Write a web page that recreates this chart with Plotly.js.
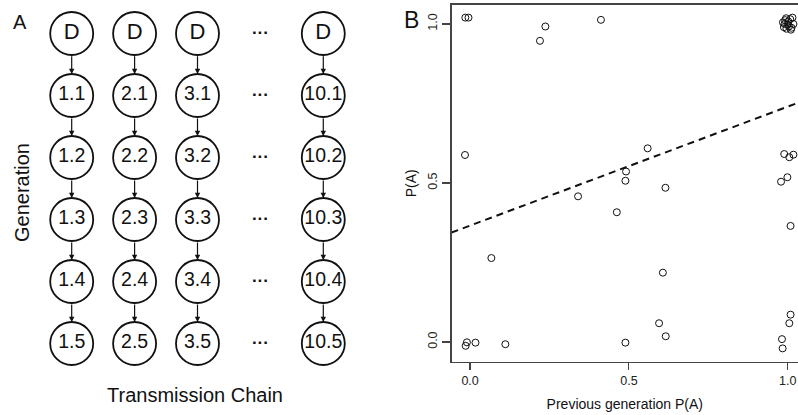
<!DOCTYPE html>
<html>
<head>
<meta charset="utf-8">
<script src="https://cdn.plot.ly/plotly-3.0.1.min.js"></script>
<style>
html,body{margin:0;padding:0;background:#fff;overflow:hidden;}
#chart{width:798px;height:415px;}
</style>
</head>
<body>
<div id="chart"></div>
<script>
// ---------- Panel A: transmission-chain diagram ----------
const chainLabels = ['1', '2', '3', '10'];
const chainSlots = [0, 1, 2, 4];          // slot 3 holds the "..." gap
const generationLabels = ['D', '1', '2', '3', '4', '5'];
const gapSlot = 3;
const gapText = '···';

// ---------- Panel B: scatter of P(A) vs previous generation P(A) ----------
const prevPA = [
  -0.015, -0.005, 0.220, 0.237, 0.412, -0.016, 0.559, 0.491, 0.489, 0.340, 0.615,
  0.989, 1.005, 1.018, 0.979, 0.999,
  0.462, 1.009, 0.067, 0.607, 0.595, 0.616, 0.489,
  -0.010, -0.014, 0.017, 0.111, 1.009, 1.005, 0.982, 0.984,
  0.985, 0.992, 1.000, 1.008, 1.015, 0.988, 0.996, 1.004, 1.012, 0.990, 1.002, 1.010, 0.995, 1.018
];
const currPA = [
  1.020, 1.020, 0.947, 0.992, 1.013, 0.588, 0.609, 0.536, 0.507, 0.458, 0.485,
  0.591, 0.581, 0.589, 0.504, 0.518,
  0.408, 0.365, 0.264, 0.218, 0.059, 0.018, -0.002,
  -0.001, -0.012, -0.002, -0.007, 0.086, 0.059, 0.009, -0.020,
  1.005, 1.012, 0.998, 1.015, 1.020, 0.990, 0.985, 0.992, 0.988, 1.000, 1.008, 0.982, 1.018, 1.000
];
const fitIntercept = 0.366;
const fitSlope = 0.374;
const tickVals = [0, 0.5, 1];
const tickText = ['0.0', '0.5', '1.0'];

// build diagram nodes
const nodeX = [], nodeY = [], nodeText = [], nodeSize = [];
chainLabels.forEach((c, ci) => {
  generationLabels.forEach((g, gi) => {
    nodeX.push(chainSlots[ci]);
    nodeY.push(gi);
    nodeText.push(g === 'D' ? 'D' : c + '.' + g);
    nodeSize.push(g === 'D' ? 22 : 19.5);
  });
});
const gapX = generationLabels.map(() => gapSlot);
const gapY = generationLabels.map((g, gi) => gi);

const nodeR = 0.345; // circle radius in generation units
const arrows = [];
chainSlots.forEach(s => {
  for (let gi = 0; gi < generationLabels.length - 1; gi++) {
    arrows.push({
      x: s, y: gi + 1 - nodeR, ax: s, ay: gi + nodeR,
      xref: 'x2', yref: 'y2', axref: 'x2', ayref: 'y2',
      showarrow: true, arrowhead: 2, arrowsize: 0.9, arrowwidth: 1.2,
      arrowcolor: '#111', text: '', standoff: 0, startstandoff: 0
    });
  }
});

const fitX = [-0.2, 1.2];
const fitY = fitX.map(x => fitIntercept + fitSlope * x);

const font = 'Liberation Sans, Arial, sans-serif';

const traces = [
  {
    x: nodeX, y: nodeY, text: nodeText, xaxis: 'x2', yaxis: 'y2',
    type: 'scatter', mode: 'markers+text', textposition: 'middle center',
    marker: {symbol: 'circle', size: 43, color: '#fff', line: {color: '#111', width: 1.8}},
    textfont: {family: font, size: nodeSize, color: '#111'},
    hoverinfo: 'skip', showlegend: false, cliponaxis: false
  },
  {
    x: gapX, y: gapY, text: gapY.map(() => gapText), xaxis: 'x2', yaxis: 'y2',
    type: 'scatter', mode: 'text', textposition: 'middle center',
    textfont: {family: font, size: 17, color: '#111', weight: 'bold'},
    hoverinfo: 'skip', showlegend: false, cliponaxis: false
  },
  {
    x: fitX, y: fitY, xaxis: 'x', yaxis: 'y', type: 'scatter', mode: 'lines',
    line: {color: '#111', width: 2, dash: '7px,5px'},
    hoverinfo: 'skip', showlegend: false
  },
  {
    x: prevPA, y: currPA, xaxis: 'x', yaxis: 'y', type: 'scatter', mode: 'markers',
    marker: {symbol: 'circle-open', size: 7, color: '#111', line: {width: 1, color: '#111'}},
    showlegend: false, cliponaxis: false
  }
];

const layout = {
  width: 798, height: 415,
  margin: {l: 0, r: 0, t: 0, b: 0},
  paper_bgcolor: '#fff', plot_bgcolor: 'rgba(0,0,0,0)',
  font: {family: font, color: '#111'},
  showlegend: false,
  xaxis: {
    domain: [0.566, 1], range: [-0.058, 1.0324], anchor: 'y',
    showgrid: false, zeroline: false,
    showline: true, mirror: true, linecolor: '#444', linewidth: 1.5,
    ticks: 'outside', ticklen: 7, tickwidth: 1.2, tickcolor: '#444',
    tickvals: tickVals, ticktext: tickText,
    tickfont: {family: font, size: 12.5, color: '#222'},
    title: {text: 'Previous generation P(A)', font: {family: font, size: 14, color: '#111'}, standoff: 12}
  },
  yaxis: {
    domain: [0.1284, 0.988], range: [-0.062, 1.0597], anchor: 'x',
    showgrid: false, zeroline: false,
    showline: true, mirror: false, linecolor: '#444', linewidth: 1.5,
    ticks: 'outside', ticklen: 8, tickwidth: 1.2, tickcolor: '#444',
    tickvals: tickVals, ticktext: tickText, tickangle: -90,
    tickfont: {family: font, size: 12.5, color: '#222'},
    title: {text: 'P(A)', font: {family: font, size: 14, color: '#111'}, standoff: 6}
  },
  xaxis2: {
    domain: [0, 0.55], range: [-1.140, 5.838], anchor: 'y2',
    visible: false, fixedrange: true
  },
  yaxis2: {
    domain: [0, 1], range: [6.153, -0.540], anchor: 'x2',
    visible: false, fixedrange: true
  },
  annotations: arrows.concat([
    {xref: 'paper', yref: 'paper', x: 20 / 798, y: 1 - 22 / 415, text: 'A', showarrow: false,
     font: {family: font, size: 20, color: '#111'}, xanchor: 'center', yanchor: 'middle'},
    {xref: 'paper', yref: 'paper', x: 411 / 798, y: 1 - 20 / 415, text: 'B', showarrow: false,
     font: {family: font, size: 23, color: '#111'}, xanchor: 'center', yanchor: 'middle'},
    {xref: 'paper', yref: 'paper', x: 22 / 798, y: 1 - 193 / 415, text: 'Generation', showarrow: false,
     textangle: -90, font: {family: font, size: 20, color: '#111'}, xanchor: 'center', yanchor: 'middle'},
    {xref: 'paper', yref: 'paper', x: 195 / 798, y: 1 - 395 / 415, text: 'Transmission Chain', showarrow: false,
     font: {family: font, size: 20, color: '#111'}, xanchor: 'center', yanchor: 'middle'}
  ])
};

Plotly.newPlot('chart', traces, layout, {staticPlot: true, displayModeBar: false});
</script>
</body>
</html>
